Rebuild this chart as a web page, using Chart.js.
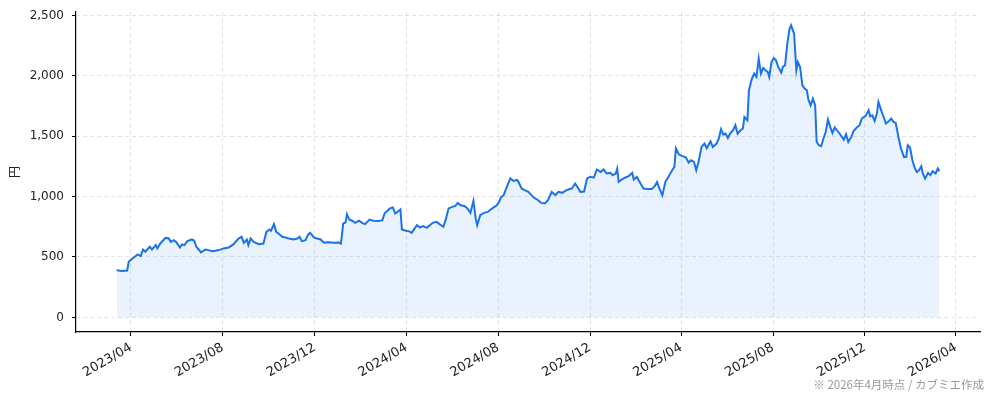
<!DOCTYPE html>
<html lang="ja">
<head>
<meta charset="utf-8">
<script src="https://cdn.jsdelivr.net/npm/chart.js@4.4.1/dist/chart.umd.min.js"></script>
<style>
  html, body { margin: 0; padding: 0; background: #fff; }
  #chart { display: block; }
</style>
</head>
<body>
<canvas id="chart" width="994" height="400"></canvas>
<script>
// 株価（円）
const dates = [
  '2023-03-13', '2023-03-20', '2023-03-27', '2023-03-29', '2023-04-03', '2023-04-10', '2023-04-14', '2023-04-17',
  '2023-04-20', '2023-04-26', '2023-04-29', '2023-05-04', '2023-05-06', '2023-05-10', '2023-05-17', '2023-05-21',
  '2023-05-24', '2023-05-28', '2023-05-31', '2023-06-05', '2023-06-08', '2023-06-11', '2023-06-15', '2023-06-21',
  '2023-06-24', '2023-06-27', '2023-06-30', '2023-07-03', '2023-07-09', '2023-07-13', '2023-07-18', '2023-07-22',
  '2023-07-27', '2023-08-02', '2023-08-09', '2023-08-15', '2023-08-22', '2023-08-26', '2023-08-29', '2023-09-02',
  '2023-09-04', '2023-09-07', '2023-09-11', '2023-09-18', '2023-09-24', '2023-09-28', '2023-10-02', '2023-10-04',
  '2023-10-08', '2023-10-11', '2023-10-14', '2023-10-19', '2023-10-23', '2023-10-28', '2023-11-03', '2023-11-08',
  '2023-11-11', '2023-11-14', '2023-11-19', '2023-11-22', '2023-11-25', '2023-11-30', '2023-12-04', '2023-12-09',
  '2023-12-13', '2023-12-20', '2023-12-26', '2024-01-02', '2024-01-05', '2024-01-08', '2024-01-11', '2024-01-13',
  '2024-01-16', '2024-01-20', '2024-01-24', '2024-01-29', '2024-02-02', '2024-02-06', '2024-02-12', '2024-02-17',
  '2024-02-24', '2024-02-29', '2024-03-03', '2024-03-05', '2024-03-10', '2024-03-14', '2024-03-17', '2024-03-20',
  '2024-03-24', '2024-03-26', '2024-03-31', '2024-04-04', '2024-04-08', '2024-04-11', '2024-04-15', '2024-04-19',
  '2024-04-23', '2024-04-28', '2024-05-02', '2024-05-06', '2024-05-11', '2024-05-15', '2024-05-20', '2024-05-23',
  '2024-05-27', '2024-06-01', '2024-06-05', '2024-06-08', '2024-06-12', '2024-06-17', '2024-06-21', '2024-06-25',
  '2024-06-29', '2024-07-02', '2024-07-04', '2024-07-08', '2024-07-13', '2024-07-18', '2024-07-22', '2024-07-27',
  '2024-07-30', '2024-08-02', '2024-08-05', '2024-08-08', '2024-08-12', '2024-08-17', '2024-08-21', '2024-08-26',
  '2024-08-28', '2024-09-01', '2024-09-05', '2024-09-10', '2024-09-14', '2024-09-18', '2024-09-23', '2024-09-27',
  '2024-10-02', '2024-10-06', '2024-10-11', '2024-10-16', '2024-10-20', '2024-10-25', '2024-10-29', '2024-11-02',
  '2024-11-07', '2024-11-11', '2024-11-15', '2024-11-18', '2024-11-23', '2024-11-27', '2024-12-01', '2024-12-06',
  '2024-12-10', '2024-12-15', '2024-12-19', '2024-12-23', '2024-12-28', '2024-12-31', '2025-01-04', '2025-01-06',
  '2025-01-08', '2025-01-12', '2025-01-17', '2025-01-21', '2025-01-26', '2025-01-28', '2025-02-01', '2025-02-06',
  '2025-02-10', '2025-02-15', '2025-02-21', '2025-02-25', '2025-02-28', '2025-03-03', '2025-03-07', '2025-03-11',
  '2025-03-15', '2025-03-20', '2025-03-23', '2025-03-25', '2025-03-29', '2025-04-02', '2025-04-07', '2025-04-11',
  '2025-04-14', '2025-04-18', '2025-04-21', '2025-04-24', '2025-04-28', '2025-05-02', '2025-05-05', '2025-05-10',
  '2025-05-13', '2025-05-18', '2025-05-21', '2025-05-24', '2025-05-27', '2025-05-30', '2025-06-02', '2025-06-05',
  '2025-06-09', '2025-06-12', '2025-06-15', '2025-06-19', '2025-06-22', '2025-06-24', '2025-06-28', '2025-06-30',
  '2025-07-04', '2025-07-07', '2025-07-10', '2025-07-13', '2025-07-16', '2025-07-19', '2025-07-22', '2025-07-25',
  '2025-07-27', '2025-07-30', '2025-08-02', '2025-08-05', '2025-08-08', '2025-08-12', '2025-08-14', '2025-08-17',
  '2025-08-20', '2025-08-23', '2025-08-25', '2025-08-29', '2025-09-01', '2025-09-03', '2025-09-06', '2025-09-09',
  '2025-09-12', '2025-09-15', '2025-09-17', '2025-09-20', '2025-09-23', '2025-09-26', '2025-09-28', '2025-10-01',
  '2025-10-04', '2025-10-07', '2025-10-10', '2025-10-13', '2025-10-16', '2025-10-19', '2025-10-22', '2025-10-25',
  '2025-10-30', '2025-11-03', '2025-11-06', '2025-11-09', '2025-11-13', '2025-11-16', '2025-11-21', '2025-11-24',
  '2025-11-27', '2025-12-02', '2025-12-06', '2025-12-08', '2025-12-11', '2025-12-14', '2025-12-17', '2025-12-19',
  '2025-12-23', '2025-12-26', '2025-12-29', '2026-01-02', '2026-01-05', '2026-01-08', '2026-01-11', '2026-01-15',
  '2026-01-18', '2026-01-22', '2026-01-25', '2026-01-27', '2026-01-30', '2026-02-02', '2026-02-05', '2026-02-08',
  '2026-02-11', '2026-02-14', '2026-02-16', '2026-02-19', '2026-02-23', '2026-02-26', '2026-03-01', '2026-03-05',
  '2026-03-08', '2026-03-10'
];

const prices = [
  390, 385, 388, 460, 488, 521, 507, 562,
  543, 584, 562, 598, 571, 612, 658, 655,
  625, 639, 625, 579, 604, 598, 631, 645,
  634, 584, 562, 538, 562, 557, 548, 551,
  557, 571, 579, 604, 653, 667, 617, 645,
  598, 653, 625, 606, 611, 708, 728, 717,
  772, 708, 695, 667, 662, 653, 645, 653,
  667, 631, 639, 681, 700, 662, 653, 645,
  620, 622, 617, 620, 611, 777, 785, 854,
  810, 800, 783, 800, 783, 772, 810, 800,
  797, 805, 860, 873, 902, 910, 860, 873,
  893, 728, 717, 714, 700, 728, 763, 744,
  755, 741, 763, 783, 791, 772, 750, 805,
  902, 915, 922, 948, 928, 922, 902, 865,
  965, 819, 763, 846, 865, 873, 893, 915,
  928, 956, 998, 1011, 1075, 1150, 1130, 1138,
  1120, 1067, 1053, 1039, 1012, 989, 970, 948,
  943, 970, 1039, 1012, 1039, 1031, 1047, 1059,
  1067, 1108, 1072, 1039, 1042, 1150, 1163, 1157,
  1224, 1204, 1224, 1191, 1196, 1177, 1191, 1232,
  1122, 1141, 1158, 1169, 1196, 1141, 1163, 1108,
  1067, 1062, 1062, 1088, 1122, 1067, 1010, 1122,
  1163, 1218, 1246, 1398, 1348, 1337, 1326, 1282,
  1300, 1287, 1218, 1287, 1411, 1439, 1400, 1458,
  1411, 1439, 1481, 1558, 1513, 1521, 1485, 1521,
  1549, 1591, 1521, 1549, 1563, 1659, 1632, 1880,
  1977, 2018, 1991, 2142, 2018, 2065, 2046, 2032,
  1991, 2114, 2147, 2128, 2073, 2026, 2073, 2087,
  2266, 2390, 2418, 2349, 2046, 2114, 2073, 1921,
  1894, 1880, 1803, 1756, 1811, 1756, 1452, 1425,
  1417, 1481, 1535, 1638, 1577, 1527, 1572, 1549,
  1508, 1472, 1516, 1452, 1494, 1543, 1577, 1591,
  1646, 1668, 1715, 1665, 1673, 1626, 1687, 1783,
  1709, 1659, 1605, 1626, 1646, 1618, 1610, 1481,
  1398, 1328, 1328, 1425, 1406, 1307, 1241, 1204,
  1218, 1251, 1191, 1150, 1196, 1177, 1210, 1191,
  1232, 1210
];

const xTickLabels = ['2023/04', '2023/08', '2023/12', '2024/04', '2024/08', '2024/12',
                     '2025/04', '2025/08', '2025/12', '2026/04'];
const yTicks = [0, 500, 1000, 1500, 2000, 2500];
const xRange = ['2023-01-18', '2026-05-03'];
const yRange = [-121, 2528];
const yTitle = '円';
const note = '※ 2026年4月時点 / カブミエ作成';

const lineColor = 'rgb(26, 115, 232)';
const fillColor = 'rgba(26, 115, 232, 0.09)';
const gridColor = 'rgba(0, 0, 0, 0.11)';
const textColor = '#222';

function toTime(s) {
  const p = s.split(/[-\/]/).map(Number);
  return Date.UTC(p[0], p[1] - 1, p[2] || 1);
}

const points = dates.map((d, i) => ({ x: toTime(d), y: prices[i] }));
const xTickValues = xTickLabels.map(toTime);

const notePlugin = {
  id: 'note',
  afterDraw(chart) {
    const ctx = chart.ctx;
    ctx.save();
    ctx.font = '11.5px "Noto Sans CJK JP"';
    ctx.fillStyle = '#999';
    ctx.textAlign = 'right';
    ctx.textBaseline = 'alphabetic';
    ctx.fillText(note, chart.width - 10, chart.height - 11);
    ctx.restore();
  }
};

const config = {
  type: 'line',
  data: {
    datasets: [{
      label: '株価',
      data: points,
      borderColor: lineColor,
      backgroundColor: fillColor,
      borderWidth: 2,
      pointRadius: 0,
      tension: 0,
      fill: 'origin'
    }]
  },
  options: {
    responsive: false,
    animation: false,
    devicePixelRatio: 1,
    layout: { padding: { left: 0, right: 14, top: 12, bottom: 0 } },
    plugins: {
      legend: { display: false },
      tooltip: { enabled: false }
    },
    scales: {
      x: {
        type: 'linear',
        min: toTime(xRange[0]),
        max: toTime(xRange[1]),
        afterBuildTicks: (scale) => {
          scale.ticks = xTickValues.map(v => ({ value: v }));
        },
        afterFit: (scale) => { scale.height = 68; },
        ticks: {
          autoSkip: false,
          minRotation: 30,
          maxRotation: 30,
          padding: 4,
          color: textColor,
          font: { family: 'DejaVu Sans', size: 13 },
          callback: (value) => {
            const i = xTickValues.indexOf(value);
            return i >= 0 ? xTickLabels[i] : '';
          }
        },
        grid: {
          color: gridColor,
          tickColor: '#000',
          tickLength: 4,
          tickWidth: 1
        },
        border: { display: true, color: '#000', width: 1.2, dash: [4, 3] }
      },
      y: {
        type: 'linear',
        min: yRange[0],
        max: yRange[1],
        afterBuildTicks: (scale) => {
          scale.ticks = yTicks.map(v => ({ value: v }));
        },
        afterFit: (scale) => {
          // keep the plot edges where the reference has them
          scale.width = 76;
          scale.paddingTop = 0;
          scale.paddingBottom = 0;
        },
        ticks: {
          padding: 8,
          color: textColor,
          font: { family: 'DejaVu Sans', size: 12 },
          callback: (value) => value.toLocaleString('en-US')
        },
        title: {
          display: true,
          text: yTitle,
          color: textColor,
          font: { family: 'Noto Sans CJK JP', size: 12 },
          padding: { top: 7, bottom: 0 }
        },
        grid: {
          color: gridColor,
          tickColor: '#000',
          tickLength: 4,
          tickWidth: 1
        },
        border: { display: true, color: '#000', width: 1.2, dash: [4, 3] }
      }
    }
  },
  plugins: [notePlugin]
};

new Chart(document.getElementById('chart'), config);
</script>
</body>
</html>
